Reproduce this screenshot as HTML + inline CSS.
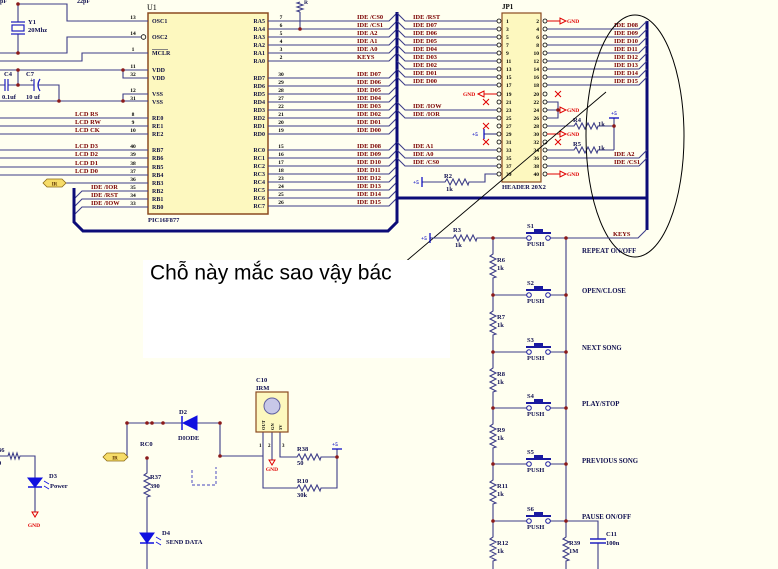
<!DOCTYPE html>
<html><head><meta charset="utf-8">
<style>
html,body{margin:0;padding:0;background:#fffff0;}
svg{display:block;}
text{font-family:"Liberation Serif",serif;}
.pn{font-size:6px;fill:#101040;font-weight:bold;}
.nm{font-size:5.5px;fill:#000;text-anchor:middle;font-weight:bold;}
.lb{font-size:6.4px;fill:#7a0000;font-weight:bold;}
.tx{font-size:7px;fill:#101050;font-weight:bold;}
.gn{font-size:5.5px;fill:#e00000;font-weight:bold;}
.bl{font-size:5.5px;fill:#0000c0;font-weight:bold;}
</style></head><body>
<svg width="778" height="569" viewBox="0 0 778 569" xmlns="http://www.w3.org/2000/svg">
<rect width="778" height="569" fill="#fffff0"/>

<!-- U1 chip -->
<rect x="148" y="13" width="120" height="201" fill="#fdf8bf" stroke="#8b4a20" stroke-width="1.5"/>
<text x="147" y="10" style="font-size:8px;fill:#000">U1</text>
<text x="148" y="222" class="tx" style="font-size:6.5px">PIC16F877</text>

<!-- top-left wires -->
<g stroke="#3c3c88" stroke-width="1.1" fill="none">
 <path d="M18,4 H67 V21 H148"/>
 <path d="M0,53 H67 V37 H141"/>
 <path d="M0,61 H82 V53 H148"/>
 <path d="M0,70 H148 M123,70 V78 H148"/>
 <path d="M0,101 H148 M123,101 V94 H148"/>
 <path d="M0,118 H148 M0,126 H148 M0,134 H148 M0,150 H148 M0,158 H148 M0,167 H148 M0,175 H148"/>
 <path d="M66,183 H148"/>
 <path d="M74,199 L82,191 H148 M74,207 L82,199 H148 M74,215 L82,207 H148"/>
 <path d="M18,4 V22 M18,34 V53"/>
 <path d="M18,70 V85 H8 M5,85 H0 M18,85 H34 M38,85 H59 V101"/>
</g>
<g stroke="#2020c0" stroke-width="1.2" fill="none">
 <path d="M11,22 H25 M11,34 H25"/>
 <rect x="12" y="25" width="12" height="6"/>
 <path d="M5,79 V91 M8,79 V91"/>
 <path d="M34,79 V91 M40,79 Q36,85 40,91"/>
</g>
<circle cx="143.5" cy="37" r="2.3" fill="none" stroke="#000" stroke-width="0.8"/>
<text x="28" y="24" class="tx" style="font-size:6.5px">Y1</text>
<text x="28" y="32" class="tx" style="font-size:6.5px">20Mhz</text>
<text x="0" y="3" class="tx" style="font-size:6px">pF</text>
<text x="77" y="3" class="tx" style="font-size:6px">22pF</text>
<text x="4" y="76" class="tx" style="font-size:6.5px">C4</text>
<text x="26" y="76" class="tx" style="font-size:6.5px">C7</text>
<text x="30" y="82" class="tx" style="font-size:6px">+</text>
<text x="2" y="99" class="tx" style="font-size:6.5px">0.1uf</text>
<text x="26" y="99" class="tx" style="font-size:6.5px">10 uf</text>

<text x="75" y="116" class="lb">LCD RS</text>
<text x="75" y="124" class="lb">LCD RW</text>
<text x="75" y="132" class="lb">LCD CK</text>
<text x="75" y="148" class="lb">LCD D3</text>
<text x="75" y="156" class="lb">LCD D2</text>
<text x="75" y="165" class="lb">LCD D1</text>
<text x="75" y="173" class="lb">LCD D0</text>
<text x="91" y="189" class="lb">IDE /IOR</text>
<text x="91" y="197" class="lb">IDE /RST</text>
<text x="91" y="205" class="lb">IDE /IOW</text>
<polygon points="43,183 47,179 62,179 66,183 62,187 47,187" fill="#f6dc68" stroke="#8b6914" stroke-width="0.8"/>
<text x="54.5" y="185.5" style="font-size:5px;fill:#5a3000;text-anchor:middle;font-weight:bold">IR</text>

<!-- U1 left pin names & numbers -->
<g>
<text x="152" y="23" class="pn">OSC1</text><text x="152" y="39" class="pn">OSC2</text><text x="152" y="55" class="pn">MCLR</text>
<text x="152" y="72" class="pn">VDD</text><text x="152" y="80" class="pn">VDD</text><text x="152" y="96" class="pn">VSS</text><text x="152" y="104" class="pn">VSS</text>
<text x="152" y="120" class="pn">RE0</text><text x="152" y="128" class="pn">RE1</text><text x="152" y="136" class="pn">RE2</text>
<text x="152" y="152" class="pn">RB7</text><text x="152" y="160" class="pn">RB6</text><text x="152" y="169" class="pn">RB5</text><text x="152" y="177" class="pn">RB4</text>
<text x="152" y="185" class="pn">RB3</text><text x="152" y="193" class="pn">RB2</text><text x="152" y="201" class="pn">RB1</text><text x="152" y="209" class="pn">RB0</text>
</g>
<line x1="152" y1="49.5" x2="168" y2="49.5" stroke="#101040" stroke-width="0.5"/>
<g>
<text x="133" y="19" class="nm">13</text><text x="133" y="35" class="nm">14</text><text x="133" y="51" class="nm">1</text>
<text x="133" y="68" class="nm">11</text><text x="133" y="76" class="nm">32</text><text x="133" y="92" class="nm">12</text><text x="133" y="100" class="nm">31</text>
<text x="133" y="116" class="nm">8</text><text x="133" y="124" class="nm">9</text><text x="133" y="132" class="nm">10</text>
<text x="133" y="148" class="nm">40</text><text x="133" y="156" class="nm">39</text><text x="133" y="165" class="nm">38</text><text x="133" y="173" class="nm">37</text>
<text x="133" y="181" class="nm">36</text><text x="133" y="189" class="nm">35</text><text x="133" y="197" class="nm">34</text><text x="133" y="205" class="nm">33</text>
</g>

<!-- U1 right pins -->
<g style="font-size:6px;fill:#101040;text-anchor:end;font-weight:bold">
<text x="265" y="23">RA5</text><text x="265" y="31">RA4</text><text x="265" y="39">RA3</text><text x="265" y="47">RA2</text><text x="265" y="55">RA1</text><text x="265" y="63">RA0</text>
<text x="265" y="80">RD7</text><text x="265" y="88">RD6</text><text x="265" y="96">RD5</text><text x="265" y="104">RD4</text><text x="265" y="112">RD3</text><text x="265" y="120">RD2</text><text x="265" y="128">RD1</text><text x="265" y="136">RD0</text>
<text x="265" y="152">RC0</text><text x="265" y="160">RC1</text><text x="265" y="168">RC2</text><text x="265" y="176">RC3</text><text x="265" y="184">RC4</text><text x="265" y="192">RC5</text><text x="265" y="200">RC6</text><text x="265" y="208">RC7</text>
</g>
<g>
<text x="281" y="19" class="nm">7</text><text x="281" y="27" class="nm">6</text><text x="281" y="35" class="nm">5</text><text x="281" y="43" class="nm">4</text><text x="281" y="51" class="nm">3</text><text x="281" y="59" class="nm">2</text>
<text x="281" y="76" class="nm">30</text><text x="281" y="84" class="nm">29</text><text x="281" y="92" class="nm">28</text><text x="281" y="100" class="nm">27</text><text x="281" y="108" class="nm">22</text><text x="281" y="116" class="nm">21</text><text x="281" y="124" class="nm">20</text><text x="281" y="132" class="nm">19</text>
<text x="281" y="148" class="nm">15</text><text x="281" y="156" class="nm">16</text><text x="281" y="164" class="nm">17</text><text x="281" y="172" class="nm">18</text><text x="281" y="180" class="nm">23</text><text x="281" y="188" class="nm">24</text><text x="281" y="196" class="nm">25</text><text x="281" y="204" class="nm">26</text>
</g>
<g stroke="#3c3c88" stroke-width="1.1" fill="none">
<path d="M268,21 H389 L397,13 M268,29 H389 L397,21 M268,37 H389 L397,29 M268,45 H389 L397,37 M268,53 H389 L397,45 M268,61 H389 L397,53"/>
<path d="M268,78 H389 L397,70 M268,86 H389 L397,78 M268,94 H389 L397,86 M268,102 H389 L397,94 M268,110 H389 L397,102 M268,118 H389 L397,110 M268,126 H389 L397,118 M268,134 H389 L397,126"/>
<path d="M268,150 H389 L397,142 M268,158 H389 L397,150 M268,166 H389 L397,158 M268,174 H389 L397,166 M268,182 H389 L397,174 M268,190 H389 L397,182 M268,198 H389 L397,190 M268,206 H389 L397,198"/>
<path d="M300,29 V12"/>
<path d="M300,12 l-3,-1 l6,-2 l-6,-2 l6,-2 l-6,-2 l3,-1"/>
</g>
<text x="304" y="4" class="tx" style="font-size:5.5px">R</text>
<g class="lb">
<text x="357" y="19">IDE /CS0</text><text x="357" y="27">IDE /CS1</text><text x="357" y="35">IDE A2</text><text x="357" y="43">IDE A1</text><text x="357" y="51">IDE A0</text><text x="357" y="59">KEYS</text>
<text x="357" y="76">IDE D07</text><text x="357" y="84">IDE D06</text><text x="357" y="92">IDE D05</text><text x="357" y="100">IDE D04</text><text x="357" y="108">IDE D03</text><text x="357" y="116">IDE D02</text><text x="357" y="124">IDE D01</text><text x="357" y="132">IDE D00</text>
<text x="357" y="148">IDE D08</text><text x="357" y="156">IDE D09</text><text x="357" y="164">IDE D10</text><text x="357" y="172">IDE D11</text><text x="357" y="180">IDE D12</text><text x="357" y="188">IDE D13</text><text x="357" y="196">IDE D14</text><text x="357" y="204">IDE D15</text>
</g>

<!-- Buses -->
<g stroke="#0c0c78" stroke-width="3" fill="none" stroke-linejoin="miter">
<path d="M74,188 V222 L83,231 H388 L397,222 V12"/>
<path d="M397,198 H647"/>
<path d="M647,21 V230"/>
</g>

<!-- JP1 -->
<rect x="502" y="13" width="39" height="169" fill="#fdf8bf" stroke="#8b4a20" stroke-width="1.2"/>
<text x="502" y="9" style="font-size:7px;fill:#000;font-weight:bold">JP1</text>
<text x="502" y="189" class="tx" style="font-size:6.5px">HEADER 20X2</text>
<g stroke="#3c3c88" stroke-width="1.1" fill="none">
<path d="M397,13 L405,21 H497 M397,21 L405,29 H497 M397,29 L405,37 H497 M397,37 L405,45 H497 M397,45 L405,53 H497 M397,53 L405,61 H497 M397,61 L405,69 H497 M397,69 L405,77 H497 M397,77 L405,85 H497"/>
<path d="M397,102 L405,110 H497 M397,110 L405,118 H497"/>
<path d="M397,142 L405,150 H497 M397,150 L405,158 H497 M397,158 L405,166 H497"/>
<path d="M422,182 H445 l2,-3 l3,6 l3,-6 l3,6 l3,-6 l3,6 l3,-6 l3,6 l1,-3 H485 V174 H497"/>
<path d="M484,134 H497"/>
<path d="M547,29 H639 L647,21 M547,37 H639 L647,29 M547,45 H639 L647,37 M547,53 H639 L647,45 M547,61 H639 L647,53 M547,69 H639 L647,61 M547,77 H639 L647,69 M547,85 H639 L647,77"/>
<path d="M547,158 H639 L647,150 M547,166 H639 L647,158"/>
<path d="M547,102 H558 V118 H547 M547,110 H560"/>
<path d="M547,126 H574 l2,-3 l3,6 l3,-6 l3,6 l3,-6 l3,6 l3,-6 l3,6 l1,-3 H614"/>
<path d="M547,150 H574 l2,-3 l3,6 l3,-6 l3,6 l3,-6 l3,6 l3,-6 l3,6 l1,-3 H614"/>
<path d="M614,118 V150"/>
</g>
<g stroke="#0000c0" stroke-width="1.2">
<path d="M422,177 V187 M484,129 V139 M609,118 H619"/>
</g>
<text x="413" y="184" class="bl">+5</text>
<text x="472" y="136" class="bl">+5</text>
<text x="611" y="115" class="bl">+5</text>
<text x="444" y="178" class="tx" style="font-size:6.5px">R2</text>
<text x="446" y="191" class="tx" style="font-size:6.5px">1k</text>
<text x="573" y="122" class="tx" style="font-size:6.5px">R4</text>
<text x="598" y="126" class="tx" style="font-size:6.5px">1k</text>
<text x="573" y="146" class="tx" style="font-size:6.5px">R5</text>
<text x="598" y="150" class="tx" style="font-size:6.5px">1k</text>
<!-- JP1 pin circles -->
<g fill="#fffff0" stroke="#000" stroke-width="0.8">
<circle cx="499" cy="21" r="2"/><circle cx="499" cy="29" r="2"/><circle cx="499" cy="37" r="2"/><circle cx="499" cy="45" r="2"/><circle cx="499" cy="53" r="2"/><circle cx="499" cy="61" r="2"/><circle cx="499" cy="69" r="2"/><circle cx="499" cy="77" r="2"/><circle cx="499" cy="85" r="2"/><circle cx="499" cy="94" r="2"/><circle cx="499" cy="102" r="2"/><circle cx="499" cy="110" r="2"/><circle cx="499" cy="118" r="2"/><circle cx="499" cy="126" r="2"/><circle cx="499" cy="134" r="2"/><circle cx="499" cy="142" r="2"/><circle cx="499" cy="150" r="2"/><circle cx="499" cy="158" r="2"/><circle cx="499" cy="166" r="2"/><circle cx="499" cy="174" r="2"/>
<circle cx="545" cy="21" r="2"/><circle cx="545" cy="29" r="2"/><circle cx="545" cy="37" r="2"/><circle cx="545" cy="45" r="2"/><circle cx="545" cy="53" r="2"/><circle cx="545" cy="61" r="2"/><circle cx="545" cy="69" r="2"/><circle cx="545" cy="77" r="2"/><circle cx="545" cy="85" r="2"/><circle cx="545" cy="94" r="2"/><circle cx="545" cy="102" r="2"/><circle cx="545" cy="110" r="2"/><circle cx="545" cy="118" r="2"/><circle cx="545" cy="126" r="2"/><circle cx="545" cy="134" r="2"/><circle cx="545" cy="142" r="2"/><circle cx="545" cy="150" r="2"/><circle cx="545" cy="158" r="2"/><circle cx="545" cy="166" r="2"/><circle cx="545" cy="174" r="2"/>
</g>
<g style="font-size:5.5px;fill:#000;font-weight:bold">
<text x="506" y="23">1</text><text x="506" y="31">3</text><text x="506" y="39">5</text><text x="506" y="47">7</text><text x="506" y="55">9</text><text x="506" y="63">11</text><text x="506" y="71">13</text><text x="506" y="79">15</text><text x="506" y="87">17</text><text x="506" y="96">19</text><text x="506" y="104">21</text><text x="506" y="112">23</text><text x="506" y="120">25</text><text x="506" y="128">27</text><text x="506" y="136">29</text><text x="506" y="144">31</text><text x="506" y="152">33</text><text x="506" y="160">35</text><text x="506" y="168">37</text><text x="506" y="176">39</text>
</g>
<g style="font-size:5.5px;fill:#000;text-anchor:end;font-weight:bold">
<text x="539" y="23">2</text><text x="539" y="31">4</text><text x="539" y="39">6</text><text x="539" y="47">8</text><text x="539" y="55">10</text><text x="539" y="63">12</text><text x="539" y="71">14</text><text x="539" y="79">16</text><text x="539" y="87">18</text><text x="539" y="96">20</text><text x="539" y="104">22</text><text x="539" y="112">24</text><text x="539" y="120">26</text><text x="539" y="128">28</text><text x="539" y="136">30</text><text x="539" y="144">32</text><text x="539" y="152">34</text><text x="539" y="160">36</text><text x="539" y="168">38</text><text x="539" y="176">40</text>
</g>
<g class="lb">
<text x="413" y="19">IDE /RST</text><text x="413" y="27">IDE D07</text><text x="413" y="35">IDE D06</text><text x="413" y="43">IDE D05</text><text x="413" y="51">IDE D04</text><text x="413" y="59">IDE D03</text><text x="413" y="67">IDE D02</text><text x="413" y="75">IDE D01</text><text x="413" y="83">IDE D00</text>
<text x="413" y="108">IDE /IOW</text><text x="413" y="116">IDE /IOR</text>
<text x="413" y="148">IDE A1</text><text x="413" y="156">IDE A0</text><text x="413" y="164">IDE /CS0</text>
<text x="614" y="27">IDE D08</text><text x="614" y="35">IDE D09</text><text x="614" y="43">IDE D10</text><text x="614" y="51">IDE D11</text><text x="614" y="59">IDE D12</text><text x="614" y="67">IDE D13</text><text x="614" y="75">IDE D14</text><text x="614" y="83">IDE D15</text>
<text x="614" y="156">IDE A2</text><text x="614" y="164">IDE /CS1</text>
</g>
<!-- GND symbols & X marks (red) -->
<g stroke="#e00000" stroke-width="1" fill="none">
<path d="M484,94 H497"/><polygon points="478,94 484,91 484,97"/>
<path d="M547,21 H560 M547,134 H560 M547,174 H560"/>
<polygon points="560,18 560,24 566,21"/><polygon points="560,107 560,113 566,110"/><polygon points="560,131 560,137 566,134"/><polygon points="560,171 560,177 566,174"/>
<path d="M483,99 l6,6 M489,99 l-6,6 M483,123 l6,6 M489,123 l-6,6 M483,139 l6,6 M489,139 l-6,6"/>
<path d="M555,91 l6,6 M561,91 l-6,6 M555,139 l6,6 M561,139 l-6,6"/>
</g>
<text x="463" y="96" class="gn">GND</text>
<text x="567" y="23" class="gn">GND</text>
<text x="567" y="112" class="gn">GND</text>
<text x="567" y="136" class="gn">GND</text>
<text x="567" y="176" class="gn">GND</text>

<!-- ellipse and diagonal -->
<ellipse cx="635" cy="136" rx="49" ry="121" fill="none" stroke="#000" stroke-width="1"/>
<line x1="606" y1="92" x2="404" y2="263" stroke="#000" stroke-width="0.9"/>

<!-- Keys section -->
<g stroke="#3c3c88" stroke-width="1.1" fill="none">
<path d="M430,238 H453 l2,-3 l3,6 l3,-6 l3,6 l3,-6 l3,6 l3,-6 l3,6 l1,-3 H527"/>
<path d="M550,238 H638 L646,230"/>
<path d="M493,238 V254 l-3,2 l6,3 l-6,3 l6,3 l-6,3 l6,3 l-6,3 l6,3 l-3,1 V311 l-3,2 l6,3 l-6,3 l6,3 l-6,3 l6,3 l-6,3 l6,3 l-3,1 V368 l-3,2 l6,3 l-6,3 l6,3 l-6,3 l6,3 l-6,3 l6,3 l-3,1 V424 l-3,2 l6,3 l-6,3 l6,3 l-6,3 l6,3 l-6,3 l6,3 l-3,1 V480 l-3,2 l6,3 l-6,3 l6,3 l-6,3 l6,3 l-6,3 l6,3 l-3,1 V537 l-3,2 l6,3 l-6,3 l6,3 l-6,3 l6,3 l-6,3 l6,3 l-3,1 V569"/>
<path d="M566,238 V537 l-3,2 l6,3 l-6,3 l6,3 l-6,3 l6,3 l-6,3 l6,3 l-3,1 V569"/>
<path d="M493,295 H527 M550,295 H566 M493,352 H527 M550,352 H566 M493,408 H527 M550,408 H566 M493,464 H527 M550,464 H566 M493,521 H527 M550,521 H566"/>
<path d="M566,521 H598 V539 M598,543 V569"/>
</g>
<path d="M430,233 V243" stroke="#0000c0" stroke-width="1.2"/>
<path d="M590,539 H606 M590,543 H606" stroke="#2020c0" stroke-width="1.5"/>
<text x="421" y="240" class="bl">+5</text>
<text x="453" y="232" class="tx" style="font-size:6.5px">R3</text>
<text x="455" y="247" class="tx" style="font-size:6.5px">1k</text>
<g fill="none" stroke="#1a1aa0" stroke-width="1">
<circle cx="529" cy="238" r="2.3"/><circle cx="548" cy="238" r="2.3"/>
<circle cx="529" cy="295" r="2.3"/><circle cx="548" cy="295" r="2.3"/>
<circle cx="529" cy="352" r="2.3"/><circle cx="548" cy="352" r="2.3"/>
<circle cx="529" cy="408" r="2.3"/><circle cx="548" cy="408" r="2.3"/>
<circle cx="529" cy="464" r="2.3"/><circle cx="548" cy="464" r="2.3"/>
<circle cx="529" cy="521" r="2.3"/><circle cx="548" cy="521" r="2.3"/>
<path stroke-width="2" d="M526,233 H551 M526,290 H551 M526,347 H551 M526,403 H551 M526,459 H551 M526,516 H551"/>
</g>
<g fill="#1a1aa0">
<rect x="534" y="229" width="9" height="3"/><rect x="534" y="286" width="9" height="3"/><rect x="534" y="343" width="9" height="3"/><rect x="534" y="399" width="9" height="3"/><rect x="534" y="455" width="9" height="3"/><rect x="534" y="512" width="9" height="3"/>
</g>
<g class="tx" style="font-size:6.5px">
<text x="527" y="228">S1</text><text x="527" y="285">S2</text><text x="527" y="342">S3</text><text x="527" y="398">S4</text><text x="527" y="454">S5</text><text x="527" y="511">S6</text>
<text x="527" y="246">PUSH</text><text x="527" y="303">PUSH</text><text x="527" y="360">PUSH</text><text x="527" y="416">PUSH</text><text x="527" y="472">PUSH</text><text x="527" y="529">PUSH</text>
<text x="497" y="262">R6</text><text x="497" y="270">1k</text>
<text x="497" y="319">R7</text><text x="497" y="327">1k</text>
<text x="497" y="376">R8</text><text x="497" y="384">1k</text>
<text x="497" y="432">R9</text><text x="497" y="440">1k</text>
<text x="497" y="488">R11</text><text x="497" y="496">1k</text>
<text x="497" y="545">R12</text><text x="497" y="553">1k</text>
<text x="569" y="545">R39</text><text x="569" y="553">1M</text>
<text x="606" y="536">C11</text><text x="606" y="545">100n</text>
</g>
<g class="tx" style="font-size:6.8px">
<text x="582" y="253">REPEAT ON/OFF</text>
<text x="582" y="293">OPEN/CLOSE</text>
<text x="582" y="350">NEXT SONG</text>
<text x="582" y="406">PLAY/STOP</text>
<text x="582" y="463">PREVIOUS SONG</text>
<text x="582" y="519">PAUSE ON/OFF</text>
</g>
<text x="613" y="236" class="lb">KEYS</text>

<!-- White annotation box -->
<rect x="143" y="260" width="307" height="98" fill="#ffffff"/>
<text x="150" y="279.5" style="font-family:'Liberation Sans',sans-serif;font-size:21px;fill:#000">Chỗ này mắc sao vậy bác</text>

<!-- Bottom-left: R36, D3 -->
<g stroke="#3c3c88" stroke-width="1.1" fill="none">
<path d="M0,456 H8 l1,-3 l2,6 l2,-6 l2,6 l2,-6 l2,6 l1,-3 H35 V478 M35,487 V512"/>
<path d="M147,458 V473 l-3,2 l6,3 l-6,3 l6,3 l-6,3 l6,3 l-6,3 l6,3 l-3,1 V533 M147,543 V569"/>
<path d="M127,457 V423 H182 M197,423 H220 V456 H263 M263,432 V488 H297 l2,-3 l3,6 l3,-6 l3,6 l3,-6 l3,6 l3,-6 l3,6 l1,-3 H337 V449"/>
<path d="M280,432 V457 H297 l2,-3 l3,6 l3,-6 l3,6 l3,-6 l3,6 l3,-6 l3,6 l1,-3 H337"/>
<path d="M272,432 V460"/>
</g>
<path d="M332,449 H342" stroke="#0000c0" stroke-width="1.2"/>
<text x="332" y="446" class="bl">+5</text>
<path d="M192,470 V485 H216 V467" fill="none" stroke="#6a6ac8" stroke-width="1.2" stroke-dasharray="3,2"/>
<g fill="#1010e0" stroke="#1010e0">
<polygon points="28,478 42,478 35,487"/><path d="M28,487 H42" stroke-width="1.5"/>
<polygon points="140,533 154,533 147,543"/><path d="M140,543 H154" stroke-width="1.5"/>
<polygon points="197,416 197,430 183,423"/><path d="M182,416 V430" stroke-width="1.5"/>
<path d="M44,481 l5,3 M44,486 l5,3 M156,537 l5,3 M156,542 l5,3" stroke-width="0.8"/>
</g>
<g stroke="#e00000" fill="none" stroke-width="1">
<polygon points="32,512 38,512 35,517"/>
<polygon points="269,460 275,460 272,465"/>
</g>
<text x="34" y="527" class="gn" style="text-anchor:middle">GND</text>
<text x="272" y="471" class="gn" style="text-anchor:middle">GND</text>
<polygon points="103,457 107,453 124,453 128,457 124,461 107,461" fill="#f6dc68" stroke="#8b6914" stroke-width="0.8"/>
<text x="115" y="459.5" style="font-size:5px;fill:#5a3000;text-anchor:middle;font-weight:bold">IR</text>
<g class="tx" style="font-size:6.5px">
<text x="-2" y="452">36</text><text x="-2" y="465">0</text>
<text x="49" y="478">D3</text><text x="50" y="488">Power</text>
<text x="140" y="446">RC0</text>
<text x="150" y="479">R37</text><text x="150" y="488">390</text>
<text x="162" y="535">D4</text><text x="166" y="544">SEND DATA</text>
<text x="179" y="414">D2</text><text x="178" y="440">DIODE</text>
<text x="256" y="382">C10</text><text x="256" y="390">IRM</text>
<text x="297" y="451">R38</text><text x="297" y="465">50</text>
<text x="297" y="483">R10</text><text x="297" y="497">30k</text>
</g>
<!-- C10 IR module -->
<rect x="256" y="392" width="32" height="40" fill="#fdf8bf" stroke="#8b4a20" stroke-width="1.2"/>
<circle cx="272" cy="406" r="8" fill="#c8c8e8" stroke="#6060a0" stroke-width="1"/>
<g style="font-size:4.5px;fill:#000;font-weight:bold">
<text transform="translate(265,430) rotate(-90)">OUT</text>
<text transform="translate(274,430) rotate(-90)">GN</text>
<text transform="translate(282,430) rotate(-90)">5V</text>
</g>
<g style="font-size:5px;fill:#000;font-weight:bold">
<text x="259" y="447">1</text><text x="268" y="447">2</text><text x="282" y="447">3</text>
</g>

<!-- Nodes -->
<g fill="#8b1a1a">
<circle cx="18" cy="4" r="1.8"/><circle cx="18" cy="53" r="1.8"/><circle cx="18" cy="70" r="1.8"/><circle cx="18" cy="85" r="1.8"/>
<circle cx="123" cy="70" r="1.8"/><circle cx="123" cy="101" r="1.8"/><circle cx="59" cy="101" r="1.8"/>
<circle cx="300" cy="29" r="1.8"/><circle cx="558" cy="110" r="1.8"/><circle cx="614" cy="126" r="1.8"/>
<circle cx="493" cy="238" r="1.8"/><circle cx="566" cy="238" r="1.8"/>
<circle cx="493" cy="295" r="1.8"/><circle cx="566" cy="295" r="1.8"/>
<circle cx="493" cy="352" r="1.8"/><circle cx="566" cy="352" r="1.8"/>
<circle cx="493" cy="408" r="1.8"/><circle cx="566" cy="408" r="1.8"/>
<circle cx="493" cy="464" r="1.8"/><circle cx="566" cy="464" r="1.8"/>
<circle cx="493" cy="521" r="1.8"/><circle cx="566" cy="521" r="1.8"/>
<circle cx="127" cy="423" r="1.8"/><circle cx="147" cy="423" r="1.8"/><circle cx="152" cy="423" r="1.8"/><circle cx="163" cy="423" r="1.8"/>
<circle cx="220" cy="423" r="1.8"/><circle cx="220" cy="456" r="1.8"/><circle cx="337" cy="457" r="1.8"/><circle cx="147" cy="458" r="1.8"/>
</g>
</svg>
</body></html>
